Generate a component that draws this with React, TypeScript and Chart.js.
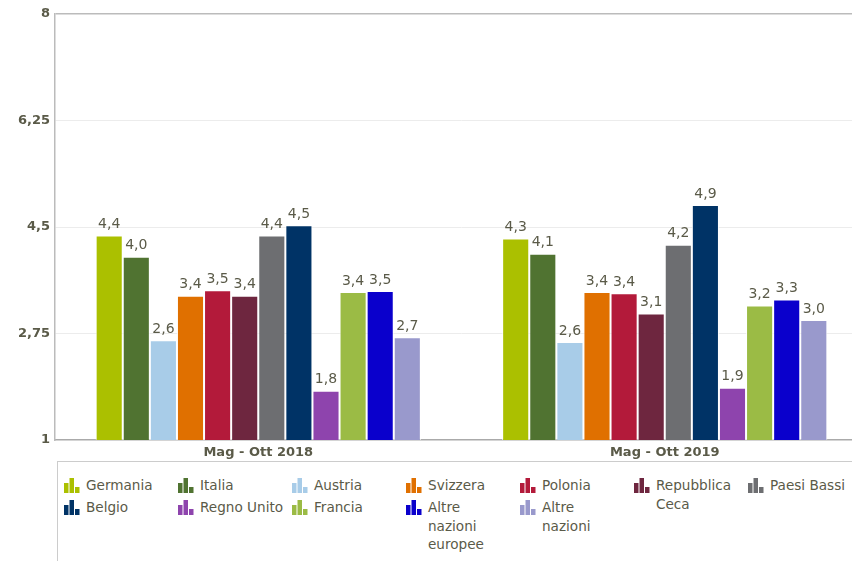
import React, { useEffect, useRef } from "react";
import { Chart, registerables } from "chart.js";

Chart.register(...registerables);

const categories = ["Mag - Ott 2018", "Mag - Ott 2019"];
const seriesNames = [
  "Germania", "Italia", "Austria", "Svizzera", "Polonia", "Repubblica Ceca",
  "Paesi Bassi", "Belgio", "Regno Unito", "Francia", "Altre nazioni europee", "Altre nazioni",
];
const legendLabels = [
  ["Germania"], ["Italia"], ["Austria"], ["Svizzera"], ["Polonia"], ["Repubblica", "Ceca"],
  ["Paesi Bassi"], ["Belgio"], ["Regno Unito"], ["Francia"], ["Altre", "nazioni", "europee"], ["Altre", "nazioni"],
];
const seriesColors = [
  "#abc000", "#507331", "#a8cce8", "#e07000", "#b31a3a", "#6e263f",
  "#6d6e71", "#003366", "#8e44ad", "#9bbb45", "#0a00cc", "#9999cc",
];
const values2018 = [4.36, 4.01, 2.64, 3.37, 3.46, 3.37, 4.36, 4.53, 1.81, 3.43, 3.45, 2.69];
const values2019 = [4.31, 4.06, 2.61, 3.43, 3.41, 3.08, 4.21, 4.86, 1.86, 3.21, 3.31, 2.97];
const yTicks = [1, 2.75, 4.5, 6.25, 8];

const textColor = "#5a5a48";
const fontFamily = "'DejaVu Sans', Verdana, sans-serif";

const fmt = (v: number, d: number) => v.toFixed(d).replace(".", ",");

const valueLabels = {
  id: "valueLabels",
  afterDatasetsDraw(chart: any) {
    const ctx = chart.ctx;
    ctx.save();
    ctx.font = `14px ${fontFamily}`;
    ctx.fillStyle = textColor;
    ctx.textAlign = "center";
    ctx.textBaseline = "bottom";
    chart.data.datasets.forEach((ds: any, i: number) => {
      const meta = chart.getDatasetMeta(i);
      meta.data.forEach((el: any, j: number) => {
        ctx.fillText(fmt(ds.data[j], 1), el.x, el.y - 4);
      });
    });
    ctx.restore();
  },
};

function Icon({ color }: { color: string }) {
  return (
    <svg width="16" height="15" viewBox="0 0 16 15" style={{ display: "block" }}>
      <rect x="0" y="5" width="4.5" height="10" fill={color} />
      <rect x="5.5" y="0" width="4.5" height="15" fill={color} />
      <rect x="11" y="9" width="4.5" height="6" fill={color} />
    </svg>
  );
}

export default function App() {
  const ref = useRef<HTMLCanvasElement>(null);
  useEffect(() => {
    if (!ref.current) return;
    const chart = new Chart(ref.current, {
      type: "bar",
      data: {
        labels: categories,
        datasets: seriesNames.map((name, i) => ({
          label: name,
          data: [values2018[i], values2019[i]],
          backgroundColor: seriesColors[i],
          borderColor: "rgba(255,255,255,0.85)",
          borderWidth: 1,
          categoryPercentage: 0.8,
          barPercentage: 1.0,
        })),
      },
      options: {
        animation: false,
        responsive: false,
        maintainAspectRatio: false,
        layout: { padding: { top: 14, right: 0, bottom: 0, left: 0 } },
        plugins: { legend: { display: false }, tooltip: { enabled: false } },
        scales: {
          x: {
            grid: { display: false, drawTicks: false },
            border: { display: true, color: "#aaaaaa", width: 1.5 },
            ticks: {
              color: textColor,
              font: { family: fontFamily, size: 13, weight: "bold" },
              padding: 5,
            },
            afterFit: (s: any) => { s.height = 32; },
          },
          y: {
            min: 1,
            max: 8,
            afterBuildTicks: (s: any) => { s.ticks = yTicks.map((v) => ({ value: v })); },
            grid: {
              drawTicks: false,
              color: (c: any) => (c.tick && c.tick.value === 8 ? "#bbbbbb" : c.tick && c.tick.value === 1 ? "rgba(0,0,0,0)" : "#ececec"),
              lineWidth: (c: any) => (c.tick && c.tick.value === 8 ? 1.5 : 1),
            },
            border: { display: true, color: "#bbbbbb", width: 1.5 },
            ticks: {
              color: textColor,
              font: { family: fontFamily, size: 13, weight: "bold" },
              padding: 5,
              callback: (v: any) => String(Number(v)).replace(".", ","),
            },
            afterFit: (s: any) => { s.width = 55; },
          },
        },
      },
      plugins: [valueLabels],
    } as any);
    return () => chart.destroy();
  }, []);

  return (
    <div style={{ position: "fixed", left: 0, top: 0, width: 852, height: 561, overflow: "hidden", background: "#fff" }}>
      <canvas ref={ref} width={868} height={472} style={{ position: "absolute", left: 0, top: 0, width: 868, height: 472 }} />
      <div style={{ position: "absolute", left: 57, top: 461, width: 820, height: 120, border: "1px solid #cccccc", boxSizing: "border-box", background: "#fff" }} />
      {legendLabels.map((lines, i) => {
        const col = i % 7;
        const row = Math.floor(i / 7);
        return (
          <div
            key={i}
            style={{
              position: "absolute",
              left: 64 + col * 114,
              top: 476 + row * 22,
              display: "flex",
              alignItems: "flex-start",
              fontFamily,
              fontSize: 13.6,
              lineHeight: "18.5px",
              color: textColor,
              whiteSpace: "nowrap",
            }}
          >
            <div style={{ marginTop: 2, width: 22 }}>
              <Icon color={seriesColors[i]} />
            </div>
            <div>
              {lines.map((l, k) => (
                <div key={k}>{l}</div>
              ))}
            </div>
          </div>
        );
      })}
    </div>
  );
}
